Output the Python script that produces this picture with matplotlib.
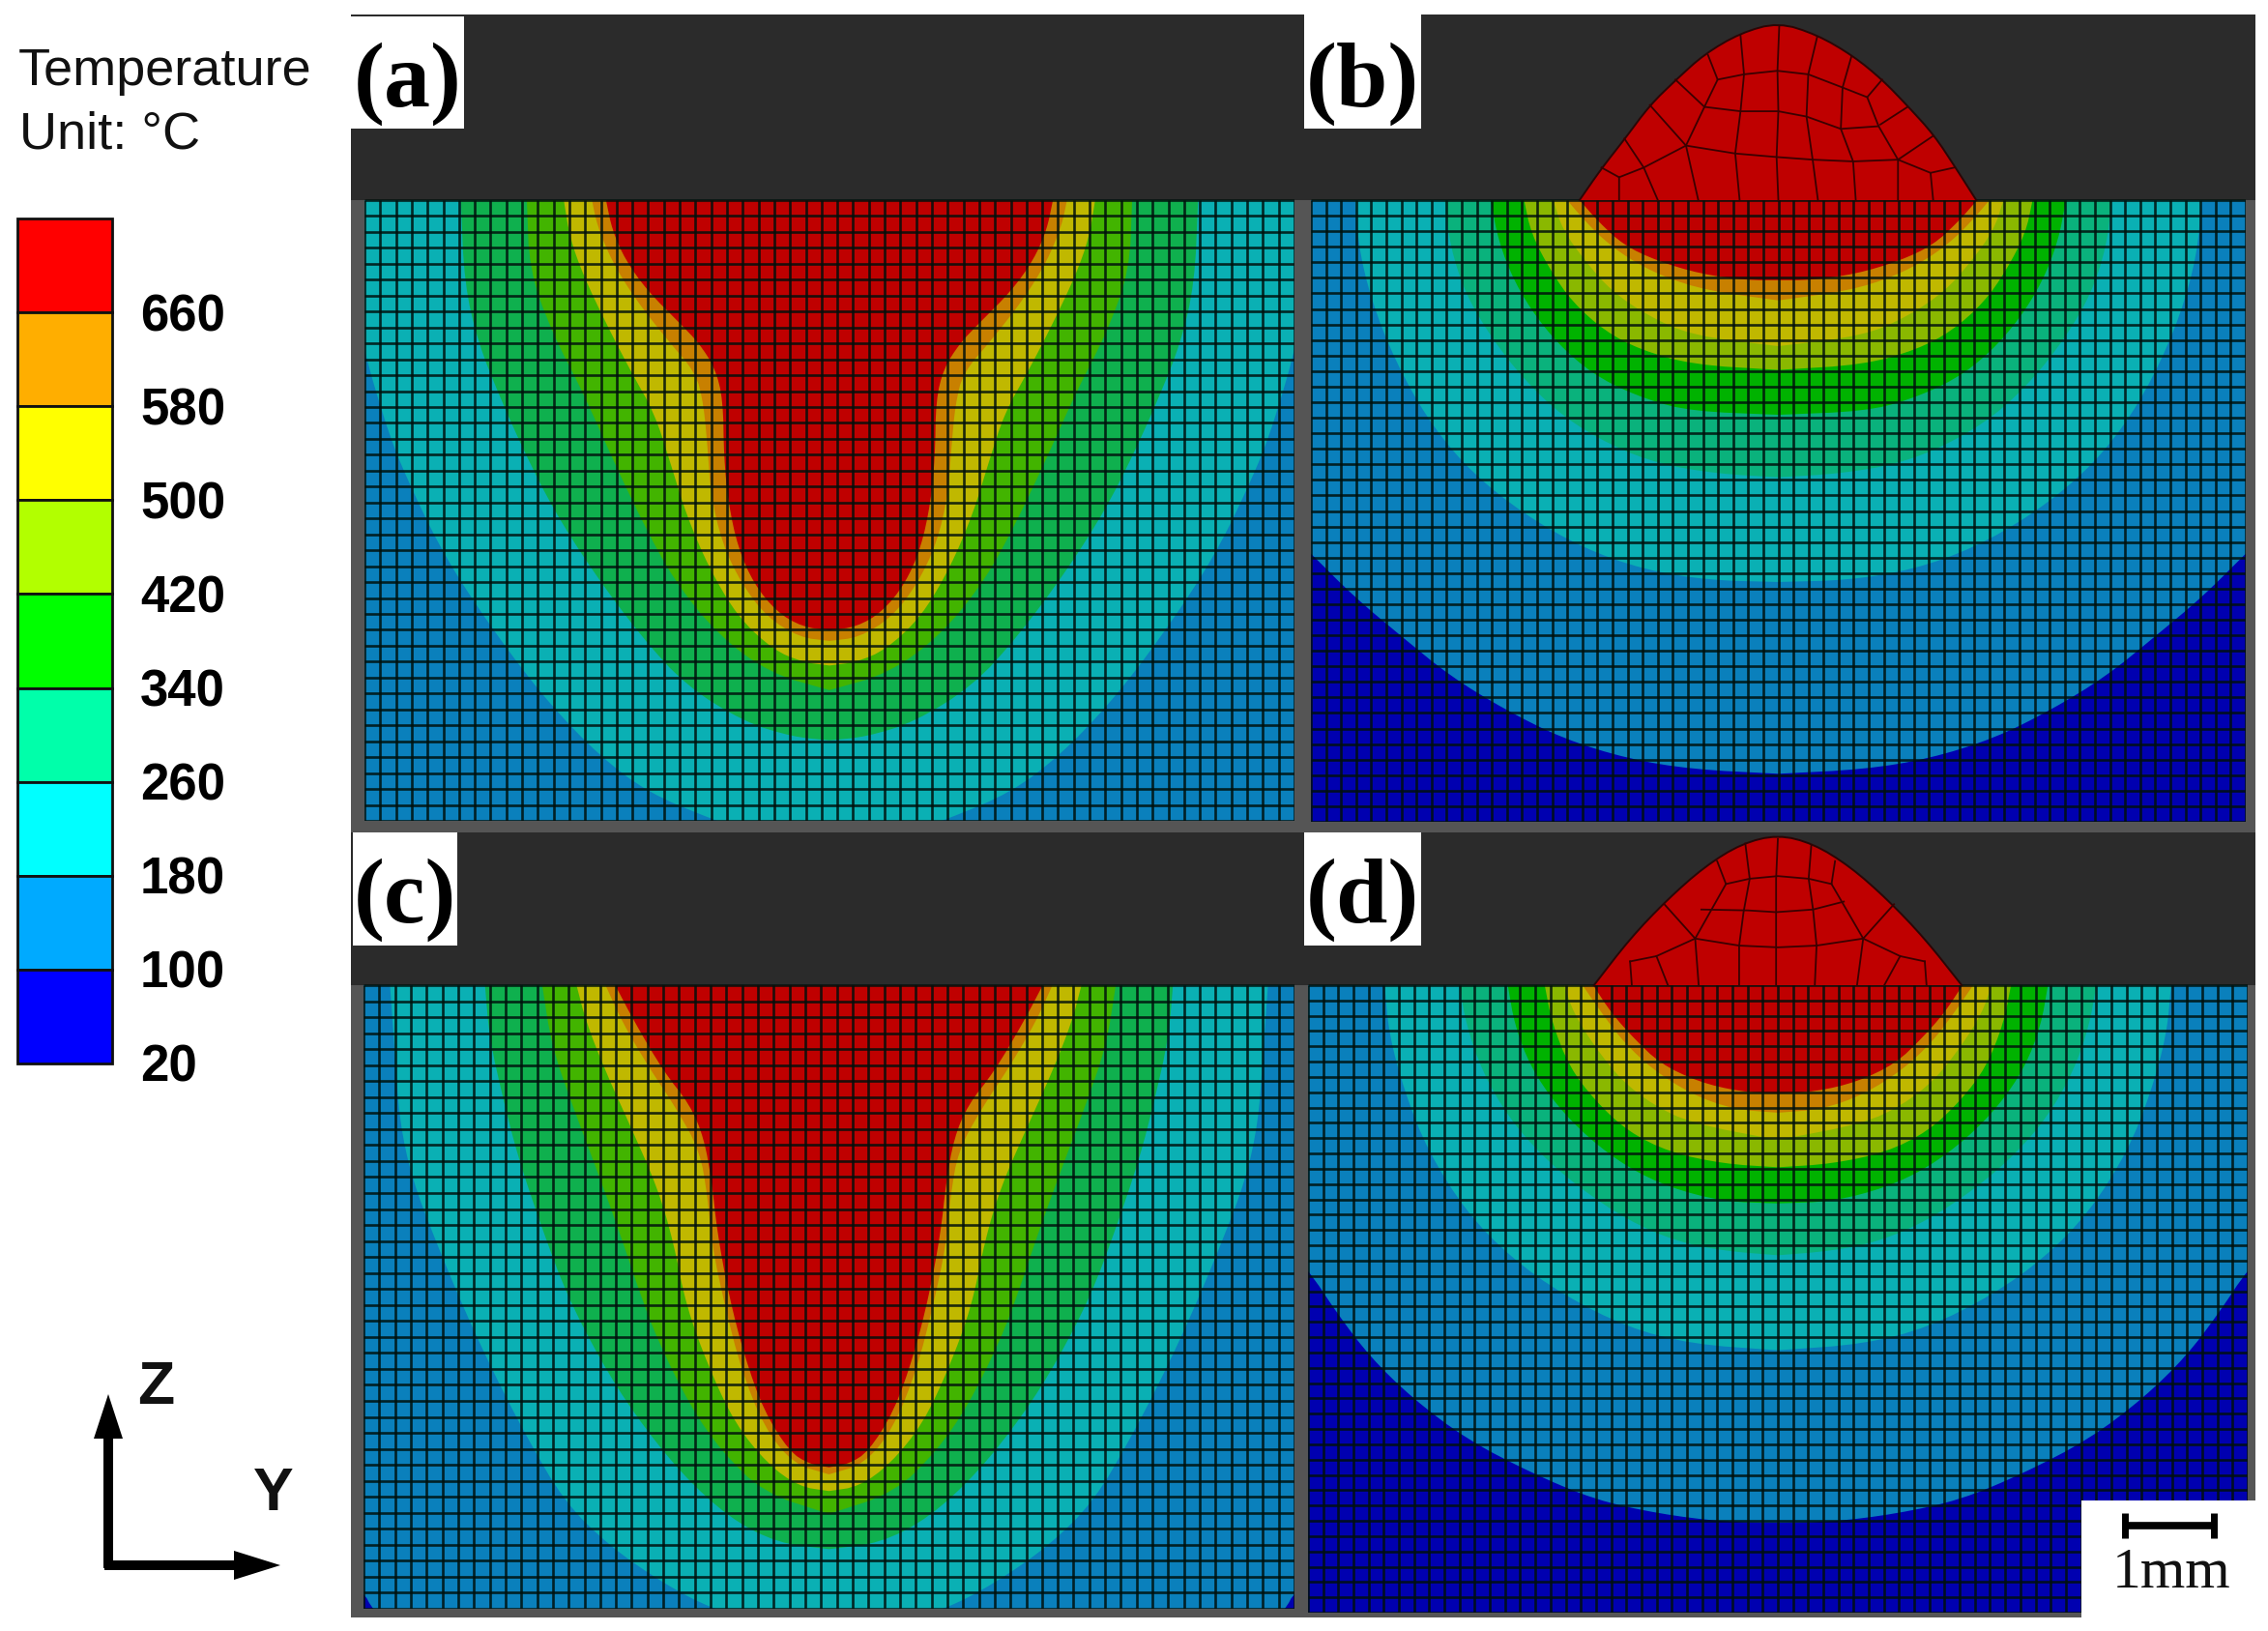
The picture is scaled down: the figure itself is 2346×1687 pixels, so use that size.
#!/usr/bin/env python3
"""Weld cross-section temperature contours (a-d) with mesh, colour legend and scale bar."""
import matplotlib
matplotlib.use('Agg')
import matplotlib.pyplot as plt
import numpy as np

W, H = 2346, 1687
PX_PER_MM = 91.0

# ── legend ──
LEGEND_COLORS = ['#ff0000', '#ffae00', '#ffff00', '#b2ff00', '#00ff00',
                 '#00ffaa', '#00ffff', '#00aaff', '#0000ff']
LEGEND_LABELS = ['660', '580', '500', '420', '340', '260', '180', '100', '20']

# ── contour colours as they look in the panels ──
DEEP = '#0000b0'
BLUE = '#0a80bc'
CYAN = '#0ab0b4'
TEAL = '#0ab27c'
GREEN = '#00b200'
LIME = '#8ab800'
YELLOW = '#c0b800'
ORANGE = '#c88000'
RED = '#bf0000'
GREEN_AC = '#0fb04e'
LIME_AC = '#42b400'

# ── isotherms: half width and depth in mm ──
A_CYAN_W = [5.50, 5.40, 5.27, 5.14, 4.96, 4.74, 4.45, 4.12, 3.64, 3.16, 2.62, 2.07, 1.33, 0.60, 0]
A_CYAN_D = [0, 1.20, 1.77, 2.23, 2.79, 3.30, 3.90, 4.45, 5.14, 5.75, 6.31, 6.73, 7.04, 7.30, 7.40]
A_GREEN_W = [4.19, 4.15, 3.99, 3.75, 3.46, 3.13, 2.69, 2.14, 1.63, 0.97, 0.42, 0]
A_GREEN_D = [0, 0.95, 1.63, 2.23, 2.88, 3.53, 4.22, 4.96, 5.52, 5.93, 6.10, 6.14]
A_LIME_W = [3.44, 3.41, 3.16, 2.80, 2.47, 2.14, 1.77, 1.26, 0.67, 0]
A_LIME_D = [0, 0.80, 1.49, 2.19, 2.93, 3.63, 4.32, 4.95, 5.38, 5.57]
A_YELLOW_W = [3.02, 2.95, 2.80, 2.54, 2.25, 1.99, 1.81, 1.63, 1.37, 1.04, 0.64, 0.31, 0]
A_YELLOW_D = [0, 0.43, 0.85, 1.40, 1.96, 2.42, 2.98, 3.57, 4.18, 4.74, 5.11, 5.25, 5.29]
A_ORANGE_W = [2.70, 2.64, 2.47, 2.21, 1.85, 1.52, 1.43, 1.38, 1.35, 1.22, 1.00, 0.71, 0.34, 0]
A_ORANGE_D = [0, 0.29, 0.70, 1.12, 1.58, 1.96, 2.32, 2.88, 3.34, 3.90, 4.36, 4.74, 4.97, 5.01]
A_RED_W = [2.54, 2.47, 2.32, 2.07, 1.70, 1.48, 1.30, 1.21, 1.20, 1.15, 1.04, 0.86, 0.60, 0.31, 0]
A_RED_D = [0, 0.34, 0.68, 1.03, 1.40, 1.63, 1.91, 2.27, 2.92, 3.44, 3.95, 4.36, 4.68, 4.85, 4.89]

B_BLUE_W = [6.20, 5.80, 5.32, 4.82, 4.27, 3.73, 3.11, 2.45, 1.71, 0.98, 0]
B_BLUE_D = [0, 3.55, 4.01, 4.51, 4.97, 5.41, 5.79, 6.12, 6.35, 6.47, 6.52]
B_CYAN_W = [4.81, 4.76, 4.57, 4.27, 3.91, 3.47, 2.89, 2.23, 1.53, 0.80, 0]
B_CYAN_D = [0, 0.62, 1.31, 2.00, 2.60, 3.11, 3.57, 3.95, 4.20, 4.32, 4.34]
B_TEAL_W = [3.79, 3.73, 3.55, 3.25, 2.89, 2.45, 1.90, 1.35, 0.69, 0]
B_TEAL_D = [0, 0.53, 1.08, 1.58, 2.04, 2.46, 2.79, 3.00, 3.11, 3.15]
B_GREEN_W = [3.27, 3.18, 3.00, 2.74, 2.41, 2.01, 1.49, 0.98, 0]
B_GREEN_D = [0, 0.47, 0.93, 1.35, 1.73, 2.04, 2.27, 2.40, 2.44]
B_LIME_W = [2.89, 2.81, 2.59, 2.34, 1.97, 1.57, 0.98, 0]
B_LIME_D = [0, 0.38, 0.80, 1.16, 1.49, 1.70, 1.87, 1.93]
B_YELLOW_W = [2.56, 2.45, 2.19, 1.90, 1.49, 0.98, 0]
B_YELLOW_D = [0, 0.34, 0.70, 1.03, 1.31, 1.54, 1.66]
B_ORANGE_W = [2.40, 2.23, 2.01, 1.71, 1.31, 0.80, 0]
B_ORANGE_D = [0, 0.20, 0.43, 0.66, 0.87, 1.03, 1.14]
B_RED_W = [2.26, 2.04, 1.76, 1.38, 0.88, 0.36, 0]
B_RED_D = [0, 0.25, 0.51, 0.69, 0.84, 0.91, 0.91]

C_BLUE_W = [6.00, 6.00, 5.29, 5.19, 4.90, 0]
C_BLUE_D = [0, 6.20, 6.90, 7.09, 7.40, 7.60]
C_CYAN_W = [4.99, 4.93, 4.88, 4.74, 4.47, 4.14, 3.81, 3.45, 3.01, 2.49, 1.88, 1.33, 0.60, 0]
C_CYAN_D = [0, 0.84, 1.55, 2.20, 2.91, 3.70, 4.41, 5.11, 5.87, 6.38, 6.80, 7.09, 7.30, 7.40]
C_GREEN_W = [3.91, 3.86, 3.70, 3.53, 3.26, 2.98, 2.60, 2.21, 1.69, 1.14, 0.59, 0]
C_GREEN_D = [0, 0.60, 1.31, 1.97, 2.77, 3.52, 4.26, 4.88, 5.54, 6.05, 6.34, 6.41]
C_LIME_W = [3.26, 3.15, 2.90, 2.65, 2.38, 2.16, 1.95, 1.58, 1.22, 0.74, 0]
C_LIME_D = [0, 0.70, 1.41, 2.07, 2.81, 3.47, 4.03, 4.78, 5.30, 5.77, 6.01]
C_YELLOW_W = [2.87, 2.76, 2.54, 2.24, 1.95, 1.77, 1.62, 1.36, 1.07, 0.70, 0.34, 0]
C_YELLOW_D = [0, 0.42, 0.98, 1.64, 2.30, 2.91, 3.66, 4.36, 4.98, 5.44, 5.70, 5.75]
C_ORANGE_W = [2.54, 2.35, 2.05, 1.73, 1.47, 1.38, 1.33, 1.18, 1.00, 0.74, 0.41, 0]
C_ORANGE_D = [0, 0.42, 0.93, 1.41, 1.88, 2.40, 2.96, 3.66, 4.36, 5.02, 5.44, 5.56]
C_RED_W = [2.43, 2.21, 1.88, 1.58, 1.42, 1.33, 1.27, 1.14, 0.96, 0.74, 0.45, 0.23, 0]
C_RED_D = [0, 0.42, 0.98, 1.36, 1.74, 2.25, 2.81, 3.52, 4.22, 4.84, 5.30, 5.44, 5.48]

D_BLUE_W = [6.20, 5.80, 5.34, 5.01, 4.64, 4.16, 3.54, 2.81, 2.08, 1.34, 0.62, 0]
D_BLUE_D = [0, 2.75, 3.23, 3.73, 4.22, 4.69, 5.16, 5.54, 5.85, 6.01, 6.10, 6.11]
D_CYAN_W = [4.47, 4.42, 4.24, 3.98, 3.54, 3.03, 2.44, 1.71, 0.98, 0]
D_CYAN_D = [0, 0.56, 1.22, 1.88, 2.58, 3.10, 3.52, 3.89, 4.08, 4.15]
D_TEAL_W = [3.62, 3.54, 3.36, 3.07, 2.70, 2.26, 1.71, 1.16, 0.62, 0]
D_TEAL_D = [0, 0.46, 0.98, 1.49, 1.92, 2.30, 2.67, 2.91, 3.02, 3.07]
D_GREEN_W = [3.07, 2.99, 2.81, 2.52, 2.15, 1.71, 1.23, 0.62, 0]
D_GREEN_D = [0, 0.46, 0.93, 1.36, 1.74, 2.07, 2.30, 2.46, 2.48]
D_LIME_W = [2.65, 2.57, 2.37, 2.08, 1.71, 1.23, 0.62, 0]
D_LIME_D = [0, 0.42, 0.93, 1.31, 1.66, 1.90, 2.03, 2.07]
D_YELLOW_W = [2.43, 2.32, 2.08, 1.78, 1.42, 0.98, 0]
D_YELLOW_D = [0, 0.32, 0.70, 1.08, 1.36, 1.57, 1.76]
D_ORANGE_W = [2.22, 2.00, 1.75, 1.42, 0.98, 0.51, 0]
D_ORANGE_D = [0, 0.32, 0.65, 0.96, 1.24, 1.41, 1.45]
D_RED_W = [2.10, 1.89, 1.64, 1.34, 0.90, 0.43, 0]
D_RED_D = [0, 0.32, 0.60, 0.89, 1.10, 1.21, 1.23]

# ── weld bead outline and its coarse mesh (y, height above the plate, mm) ──
B_BEAD_Y = [-2.26, -2.01, -1.75, -1.46, -1.16, -0.84, -0.43, 0, 0.44, 0.85, 1.18, 1.47, 1.77, 2.02, 2.25]
B_BEAD_H = [0, 0.36, 0.69, 1.08, 1.37, 1.66, 1.90, 2.02, 1.88, 1.64, 1.37, 1.07, 0.74, 0.36, 0]
B_BEAD_MESH = [
    [(0.01, 1.97), (-0.01, 1.47), (0, 1.01), (-0.02, 0.49), (0, 0)],
    [(-0.43, 1.87), (-0.39, 1.43), (-0.43, 1.01), (-0.49, 0.53), (-0.44, 0)],
    [(0.44, 1.85), (0.34, 1.43), (0.32, 0.95), (0.39, 0.46), (0.45, 0)],
    [(-0.80, 1.65), (-0.69, 1.37), (-0.84, 1.06), (-1.05, 0.62), (-0.91, 0)],
    [(0.83, 1.63), (0.73, 1.28), (0.71, 0.81), (0.85, 0.44), (0.88, 0)],
    [(-1.17, 1.37), (-0.84, 1.06)],
    [(1.18, 1.37), (1.01, 1.17), (1.14, 0.84), (1.36, 0.46), (1.36, 0)],
    [(-1.46, 1.08), (-1.05, 0.62)],
    [(-1.75, 0.70), (-1.53, 0.37), (-1.37, 0)],
    [(-2.01, 0.37), (-1.81, 0.26), (-1.81, 0)],
    [(1.47, 1.06), (1.16, 0.86)],
    [(1.76, 0.73), (1.36, 0.46)],
    [(2.00, 0.37), (1.73, 0.31), (1.76, 0)],
    [(-0.69, 1.37), (-0.39, 1.43), (-0.01, 1.47), (0.34, 1.43), (0.73, 1.28), (1.01, 1.17)],
    [(-0.84, 1.06), (-0.43, 1.01), (0, 1.01), (0.32, 0.95), (0.71, 0.81), (1.14, 0.84)],
    [(-1.81, 0.26), (-1.53, 0.37), (-1.05, 0.62), (-0.49, 0.53), (-0.02, 0.49), (0.39, 0.46),
     (0.85, 0.44), (1.36, 0.46), (1.73, 0.31)],
]

D_BEAD_Y = [-2.09, -1.68, -1.26, -0.83, -0.41, 0, 0.40, 0.82, 1.25, 1.67, 2.09]
D_BEAD_H = [0, 0.53, 0.97, 1.35, 1.61, 1.71, 1.61, 1.35, 0.97, 0.53, 0]
D_BEAD_MESH = [
    [(0, 1.66), (-0.02, 1.21), (-0.02, 0.83), (-0.02, 0.45), (-0.02, 0)],
    [(-0.37, 1.61), (-0.32, 1.21), (-0.39, 0.83), (-0.44, 0.45), (-0.44, 0)],
    [(0.38, 1.59), (0.35, 1.21), (0.40, 0.86), (0.44, 0.45), (0.42, 0)],
    [(-0.69, 1.41), (-0.59, 1.15), (-0.94, 0.53), (-0.90, 0)],
    [(0.65, 1.41), (0.61, 1.15), (0.97, 0.53), (0.90, 0)],
    [(-0.59, 1.15), (-0.32, 1.21), (0, 1.24), (0.35, 1.21), (0.61, 1.15)],
    [(-0.87, 0.86), (-0.34, 0.85), (-0.02, 0.83), (0.40, 0.86), (0.75, 0.95)],
    [(-0.94, 0.53), (-0.44, 0.45), (0, 0.43), (0.44, 0.45), (0.97, 0.53)],
    [(-1.29, 0.92), (-0.94, 0.53)],
    [(1.32, 0.92), (0.97, 0.53)],
    [(-1.68, 0.27), (-1.38, 0.33), (-0.94, 0.53)],
    [(1.67, 0.27), (1.39, 0.33), (0.97, 0.53)],
    [(-1.38, 0.33), (-1.25, 0)],
    [(1.39, 0.33), (1.21, 0)],
    [(-1.68, 0.27), (-1.66, 0)],
    [(1.67, 0.27), (1.69, 0)],
]


def px_axes(fig, x0, x1, y0, y1):
    """Axes placed from reference pixel edges (y measured from the top)."""
    return fig.add_axes([x0 / W, 1 - y1 / H, (x1 - x0) / W, (y1 - y0) / H])


def smooth(xs, ys, passes=2):
    """Round the corners of a read-off outline, keeping its two ends."""
    pts = np.column_stack([xs, ys]).astype(float)
    for _ in range(passes):
        q = 0.75 * pts[:-1] + 0.25 * pts[1:]
        r = 0.25 * pts[:-1] + 0.75 * pts[1:]
        mid = np.empty((2 * len(q), 2))
        mid[0::2] = q
        mid[1::2] = r
        pts = np.vstack([pts[0], mid, pts[-1]])
    return pts[:, 0], pts[:, 1]


def draw_panel(fig, x0, x1, y_dark, y_top, y_bot, base, bands, ncols, nrows,
               bead_y=None, bead_h=None, bead_mesh=()):
    ax = px_axes(fig, x0, x1, y_dark, y_bot)
    half = (x1 - x0) / 2 / PX_PER_MM
    depth = (y_bot - y_top) / PX_PER_MM
    height = (y_top - y_dark) / PX_PER_MM
    ax.set_xlim(-half, half)
    ax.set_ylim(-depth, height)
    ax.axis('off')

    ax.fill_between([-half, half], -depth, 0, color=base, lw=0)
    for widths, depths, color in bands:
        w, d = smooth(widths, depths)
        ax.fill(np.r_[-w, w[::-1]], np.r_[-d, -d[::-1]], color=color, lw=0)

    xs = np.linspace(-half, half, ncols + 1)
    zs = np.linspace(-depth, 0, nrows + 1)
    ax.vlines(xs, -depth, 0, color='#00100c', lw=1.9, alpha=0.85, zorder=3)
    ax.hlines(zs, -half, half, color='#00100c', lw=1.9, alpha=0.85, zorder=3)

    if bead_y is not None:
        by, bh = smooth(bead_y, bead_h)
        ax.fill(by, bh, color=RED, lw=0, zorder=4)
        ax.plot(by, bh, color='#2a0606', lw=1.4, zorder=5)
        for line in bead_mesh:
            ly, lh = zip(*line)
            ax.plot(ly, lh, color='#3a0000', lw=1.3, zorder=5)
    return ax


fig = plt.figure(figsize=(W / 100, H / 100), dpi=100, facecolor='white')

# ── background plates ──
bg = fig.add_axes([0, 0, 1, 1], zorder=0)
bg.set_xlim(0, W)
bg.set_ylim(H, 0)
bg.axis('off')
bg.fill_between([363, 2333], 15, 1673, color='#555555', lw=0)
bg.fill_between([363, 2333], 15, 207, color='#2b2b2b', lw=0)
bg.fill_between([363, 2333], 861, 1019, color='#2b2b2b', lw=0)

# ── the four panels ──
draw_panel(fig, 377, 1339, 15, 207, 849, BLUE,
           [(A_CYAN_W, A_CYAN_D, CYAN), (A_GREEN_W, A_GREEN_D, GREEN_AC),
            (A_LIME_W, A_LIME_D, LIME_AC), (A_YELLOW_W, A_YELLOW_D, YELLOW),
            (A_ORANGE_W, A_ORANGE_D, ORANGE), (A_RED_W, A_RED_D, RED)], 59, 39)
draw_panel(fig, 1356, 2323, 15, 207, 850, DEEP,
           [(B_BLUE_W, B_BLUE_D, BLUE), (B_CYAN_W, B_CYAN_D, CYAN),
            (B_TEAL_W, B_TEAL_D, TEAL), (B_GREEN_W, B_GREEN_D, GREEN),
            (B_LIME_W, B_LIME_D, LIME), (B_YELLOW_W, B_YELLOW_D, YELLOW),
            (B_ORANGE_W, B_ORANGE_D, ORANGE), (B_RED_W, B_RED_D, RED)], 62, 40,
           B_BEAD_Y, B_BEAD_H, B_BEAD_MESH)
draw_panel(fig, 376, 1339, 861, 1019, 1664, DEEP,
           [(C_BLUE_W, C_BLUE_D, BLUE), (C_CYAN_W, C_CYAN_D, CYAN),
            (C_GREEN_W, C_GREEN_D, GREEN_AC), (C_LIME_W, C_LIME_D, LIME_AC),
            (C_YELLOW_W, C_YELLOW_D, YELLOW), (C_ORANGE_W, C_ORANGE_D, ORANGE),
            (C_RED_W, C_RED_D, RED)], 59, 39)
draw_panel(fig, 1353, 2325, 861, 1019, 1668, DEEP,
           [(D_BLUE_W, D_BLUE_D, BLUE), (D_CYAN_W, D_CYAN_D, CYAN),
            (D_TEAL_W, D_TEAL_D, TEAL), (D_GREEN_W, D_GREEN_D, GREEN),
            (D_LIME_W, D_LIME_D, LIME), (D_YELLOW_W, D_YELLOW_D, YELLOW),
            (D_ORANGE_W, D_ORANGE_D, ORANGE), (D_RED_W, D_RED_D, RED)], 62, 41,
           D_BEAD_Y, D_BEAD_H, D_BEAD_MESH)

# ── overlay: legend, labels, axes triad, scale bar ──
ax = fig.add_axes([0, 0, 1, 1], zorder=5)
ax.set_xlim(0, W)
ax.set_ylim(H, 0)
ax.axis('off')
ax.patch.set_alpha(0)

SANS = 'Liberation Sans'
SERIF = 'Liberation Serif'

ax.text(19, 88, 'Temperature', family=SANS, fontsize=39, color='#111111', va='baseline')
ax.text(20, 153, 'Unit: °C', family=SANS, fontsize=39, color='#111111', va='baseline')

step = 97.1
leg_top = 226
for i, (col, lab) in enumerate(zip(LEGEND_COLORS, LEGEND_LABELS)):
    ax.bar(66.5, step, width=98, bottom=leg_top + i * step, color=col,
           edgecolor='#111111', linewidth=2)
    ax.text(145, leg_top + (i + 1) * step + 5, lab, family=SANS, fontweight='bold',
            fontsize=38, color='black', ha='left', va='center')

# panel tags on white boxes
for (bx0, bx1, by0, by1, tag, tx, ty) in [(363, 480, 17, 133, '(a)', 422, 110),
                                          (1349, 1470, 0, 133, '(b)', 1409, 110),
                                          (365, 473, 861, 978, '(c)', 419, 954),
                                          (1349, 1470, 861, 978, '(d)', 1409, 954)]:
    ax.fill_between([bx0, bx1], by0, by1, color='white', lw=0)
    ax.text(tx, ty, tag, family=SERIF, fontweight='bold', fontsize=69, color='black',
            ha='center', va='baseline')

# Z / Y triad
ax.arrow(112, 1622, 0, -180, width=10, head_width=30, head_length=46,
         length_includes_head=True, color='black', lw=0)
ax.arrow(108, 1619, 182, 0, width=10, head_width=30, head_length=48,
         length_includes_head=True, color='black', lw=0)
ax.text(161, 1435, 'Z', family=SANS, fontweight='bold', fontsize=45, color='#111111',
        ha='center', va='center')
ax.text(283, 1546, 'Y', family=SANS, fontweight='bold', fontsize=45, color='#111111',
        ha='center', va='center')

# scale bar box
ax.fill_between([2153, 2346], 1552, 1687, color='white', lw=0)
ax.plot([2198, 2290], [1578, 1578], color='black', lw=5.5, solid_capstyle='butt')
ax.plot([2198, 2198], [1565, 1591], color='black', lw=5, solid_capstyle='butt')
ax.plot([2290, 2290], [1565, 1591], color='black', lw=5, solid_capstyle='butt')
ax.text(2246, 1642, '1mm', family=SERIF, fontsize=43, color='#111111', ha='center', va='baseline')

fig.savefig('out.png', dpi=100, facecolor='white')
plt.close(fig)
